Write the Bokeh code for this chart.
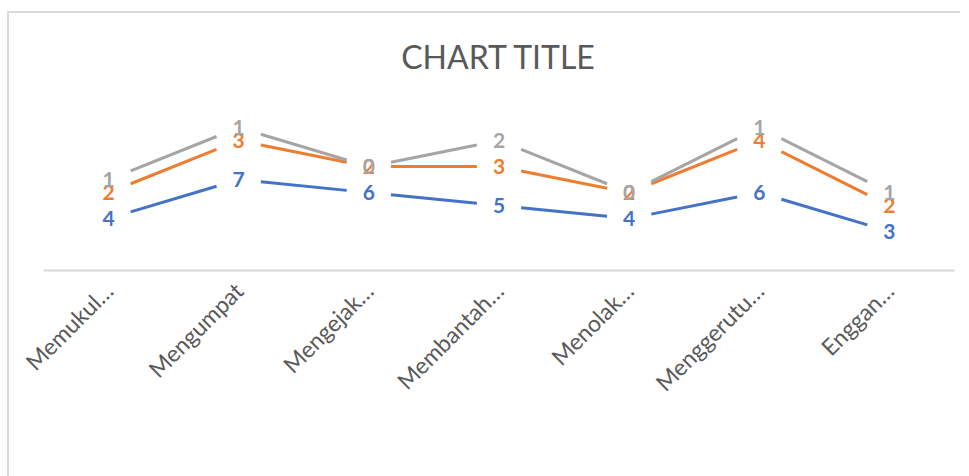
from math import pi
from bokeh.plotting import figure
from bokeh.models import Range1d, FixedTicker, Legend, LegendItem, ColumnDataSource, Title
from bokeh.core.properties import value
from bokeh.embed import file_html
from bokeh.resources import INLINE

categories = ["Memukul…", "Mengumpat", "Mengejak…", "Membantah…", "Menolak…", "Menggerutu…", "Enggan…"]
baseline_a1 = [4, 7, 6, 5, 4, 6, 3]
intervensi = [2, 3, 2, 3, 2, 4, 2]
baseline_a2 = [1, 1, 0, 2, 0, 1, 1]
series_names = ["Baseline (A1)", "Intervensi", "Baseline (A2)"]
colors = ["#4472C4", "#ED7D31", "#A5A5A5"]
chart_title = "CHART TITLE"

FONT = "Lato"
TXT = "#595959"

p = figure(frame_width=911, frame_height=174, x_range=Range1d(-0.5, 6.5), y_range=Range1d(0, 13.4),
           output_backend="svg", toolbar_location=None, title_location=None,
           min_border_left=34, min_border_right=6, min_border_top=0, min_border_bottom=0)
p.margin = (11, 0, 0, 7)
p.styles = {"border-left": "2px solid #d9d9d9", "border-top": "2px solid #d9d9d9"}
p.grid.visible = False
p.outline_line_color = None
p.yaxis.visible = False

p.add_layout(Title(text="x", text_alpha=0, text_font_size="2px", standoff=16), "above")
p.add_layout(Title(text=chart_title, align="center", vertical_align="bottom", standoff=42,
                   text_font=FONT, text_font_size="32px", text_font_style="normal",
                   text_color=TXT), "above")

ax = p.xaxis[0]
ax.ticker = FixedTicker(ticks=list(range(len(categories))))
ax.major_label_overrides = {i: c for i, c in enumerate(categories)}
ax.major_label_orientation = pi / 4
ax.major_tick_line_color = None
ax.minor_tick_line_color = None
ax.axis_line_color = "#d9d9d9"
ax.axis_line_width = 2
ax.major_label_text_font = FONT
ax.major_label_text_font_size = "23px"
ax.major_label_text_color = TXT
ax.major_label_standoff = 10

# stacked cumulative values
cum = []
running = [0] * len(categories)
for s in (baseline_a1, intervensi, baseline_a2):
    running = [r + v for r, v in zip(running, s)]
    cum.append(list(running))

gap = 0.17
items = []
for k, (vals, ys, col, name) in enumerate(zip((baseline_a1, intervensi, baseline_a2), cum, colors, series_names)):
    x0, y0, x1, y1 = [], [], [], []
    for i in range(len(ys) - 1):
        dy = ys[i + 1] - ys[i]
        x0.append(i + gap); y0.append(ys[i] + dy * gap)
        x1.append(i + 1 - gap); y1.append(ys[i + 1] - dy * gap)
    p.segment(x0=x0, y0=y0, x1=x1, y1=y1, line_color=col, line_width=3)
    dummy = p.line(x=[-5, -4], y=[-5, -5], line_color=col, line_width=3, line_dash="15 13")
    items.append(LegendItem(label=name, renderers=[dummy]))

for vals, ys, col in zip((baseline_a1, intervensi, baseline_a2), cum, colors):
    src = ColumnDataSource(dict(x=list(range(len(ys))), y=ys, t=[str(v) for v in vals]))
    p.text(x="x", y="y", text="t", source=src, text_align="center", text_baseline="middle",
           text_font=value(FONT), text_font_size="21px", text_font_style="bold", text_color=col)

legend = Legend(items=items, orientation="horizontal", location=(150, 36),
                glyph_width=43, glyph_height=20, label_standoff=2, spacing=24,
                border_line_color=None, background_fill_alpha=0,
                label_text_font=FONT, label_text_font_size="19px", label_text_color=TXT,
                margin=0, padding=2)
p.add_layout(legend, "below")

open("out.html", "w").write(file_html(p, INLINE))
